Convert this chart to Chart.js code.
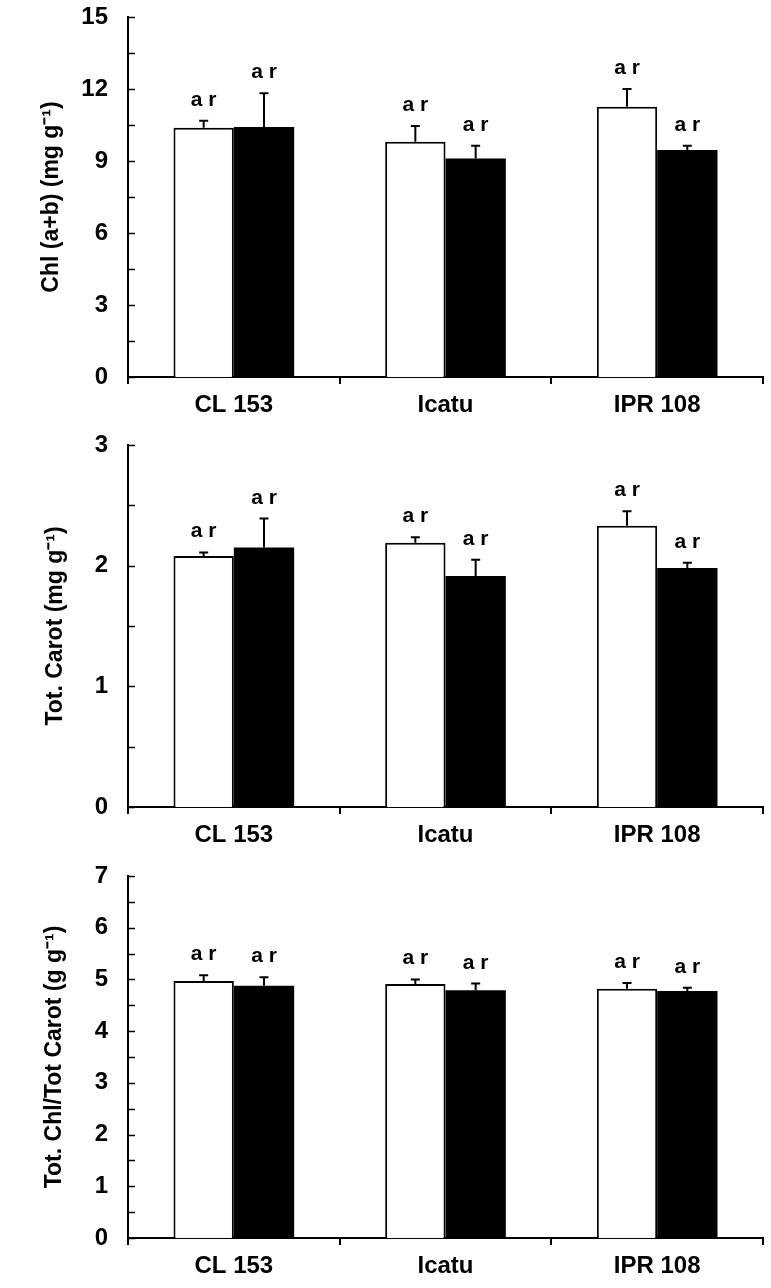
<!DOCTYPE html>
<html>
<head>
<meta charset="utf-8">
<script src="https://cdn.jsdelivr.net/npm/chart.js@4.4.1/dist/chart.umd.min.js"></script>
<style>
  html, body { margin: 0; padding: 0; background: #fff; overflow: hidden; }
  #page { position: relative; width: 771px; height: 1288px; }
  .panel { position: absolute; left: 0; width: 771px; }
</style>
</head>
<body>
<div id="page">
  <div class="panel" style="top:0;height:429px"><canvas id="chl-chart"></canvas></div>
  <div class="panel" style="top:428px;height:431px"><canvas id="carot-chart"></canvas></div>
  <div class="panel" style="top:859px;height:431px"><canvas id="ratio-chart"></canvas></div>
</div>
<script>
const cultivars = ["CL 153", "Icatu", "IPR 108"];

// Chl (a+b), mg g-1
const chlOpen = [10.39, 9.80, 11.26];
const chlOpenErr = [0.29, 0.66, 0.74];
const chlFilled = [10.42, 9.10, 9.46];
const chlFilledErr = [1.40, 0.54, 0.18];

// total carotenoids, mg g-1
const carotOpen = [2.08, 2.19, 2.33];
const carotOpenErr = [0.03, 0.045, 0.12];
const carotFilled = [2.15, 1.915, 1.98];
const carotFilledErr = [0.24, 0.135, 0.045];

// Chl / carotenoids ratio, g g-1
const ratioOpen = [4.97, 4.91, 4.82];
const ratioOpenErr = [0.11, 0.09, 0.11];
const ratioFilled = [4.88, 4.79, 4.775];
const ratioFilledErr = [0.16, 0.13, 0.065];

// significance letters
const openLetters = ["a r", "a r", "a r"];
const filledLetters = ["a r", "a r", "a r"];

const FONT = "'Liberation Sans', Arial, sans-serif";
Chart.defaults.font.family = FONT;
Chart.defaults.color = "#000";

const errorBarPlugin = {
  id: "errorBars",
  afterDatasetsDraw(chart) {
    const ctx = chart.ctx;
    const yScale = chart.scales.y;
    chart.data.datasets.forEach((ds, di) => {
      const meta = chart.getDatasetMeta(di);
      meta.data.forEach((bar, i) => {
        const top = yScale.getPixelForValue(ds.data[i] + ds.errors[i]);
        ctx.save();
        ctx.strokeStyle = "#000";
        ctx.lineWidth = 2;
        ctx.beginPath();
        ctx.moveTo(bar.x, bar.y);
        ctx.lineTo(bar.x, top);
        ctx.moveTo(bar.x - 4.5, top);
        ctx.lineTo(bar.x + 4.5, top);
        ctx.stroke();
        ctx.fillStyle = "#000";
        ctx.font = "bold 21px " + FONT;
        ctx.textAlign = "center";
        ctx.textBaseline = "alphabetic";
        ctx.fillText(ds.letters[i], bar.x, top - 15);
        ctx.restore();
      });
    });
  }
};

// small tick marks pointing into the plot on the y axis
const innerTicksPlugin = {
  id: "innerTicks",
  afterDraw(chart, args, opts) {
    const y = chart.scales.y;
    const ctx = chart.ctx;
    const x0 = chart.chartArea.left;
    ctx.save();
    ctx.strokeStyle = "#000";
    ctx.lineWidth = 1.5;
    ctx.beginPath();
    for (let v = y.min; v <= y.max + 1e-9; v += opts.step) {
      const py = Math.round(y.getPixelForValue(v)) + 0.5;
      ctx.moveTo(x0, py);
      ctx.lineTo(x0 + 7, py);
    }
    ctx.stroke();
    ctx.restore();
  }
};

function makePanel(canvasId, p) {
  const ctx = document.getElementById(canvasId);
  return new Chart(ctx, {
    type: "bar",
    data: {
      labels: cultivars,
      datasets: [
        {
          data: p.open,
          errors: p.openErr,
          letters: openLetters,
          backgroundColor: "#fff",
          borderColor: "#000",
          borderWidth: 2,
        },
        {
          data: p.filled,
          errors: p.filledErr,
          letters: filledLetters,
          backgroundColor: "#000",
          borderColor: "#000",
          borderWidth: 0,
        },
      ],
    },
    plugins: [errorBarPlugin, innerTicksPlugin],
    options: {
      responsive: true,
      maintainAspectRatio: false,
      animation: false,
      layout: { padding: { top: 17, right: 8, left: 0, bottom: 0 } },
      categoryPercentage: 0.57,
      barPercentage: 1.0,
      plugins: {
        legend: { display: false },
        tooltip: { enabled: false },
        innerTicks: { step: p.minor },
      },
      scales: {
        x: {
          offset: true,
          grid: {
            display: true,
            offset: true,
            drawOnChartArea: false,
            drawTicks: true,
            tickLength: 7,
            color: "#000",
            lineWidth: 2,
          },
          border: { display: true, color: "#000", width: 2 },
          ticks: { font: { size: 24, weight: "bold" }, color: "#000", padding: 7 },
          afterFit: (scale) => { scale.height = 52; },
        },
        y: {
          min: 0,
          max: p.max,
          grid: { display: false, drawTicks: false },
          border: { display: true, color: "#000", width: 2 },
          ticks: {
            stepSize: p.step,
            font: { size: 24, weight: "bold" },
            color: "#000",
            padding: 20,
          },
          title: {
            display: true,
            text: p.title,
            font: { size: 23, weight: "bold" },
            color: "#000",
            padding: { top: p.titleX - 13.8, bottom: 0 },
          },
          afterFit: (scale) => {
            scale.width = 128;
            // tick padding is only wanted sideways, not above/below the axis
            scale.paddingTop = 0;
            scale.paddingBottom = 0;
          },
        },
      },
    },
  });
}

makePanel("chl-chart", {
  open: chlOpen, openErr: chlOpenErr, filled: chlFilled, filledErr: chlFilledErr,
  max: 15, step: 3, minor: 1.5, title: "Chl (a+b) (mg g\u207B\u00B9)", titleX: 52,
});
makePanel("carot-chart", {
  open: carotOpen, openErr: carotOpenErr, filled: carotFilled, filledErr: carotFilledErr,
  max: 3, step: 1, minor: 0.5, title: "Tot. Carot (mg g\u207B\u00B9)", titleX: 56,
});
makePanel("ratio-chart", {
  open: ratioOpen, openErr: ratioOpenErr, filled: ratioFilled, filledErr: ratioFilledErr,
  max: 7, step: 1, minor: 0.5, title: "Tot. Chl/Tot Carot (g g\u207B\u00B9)", titleX: 55,
});
</script>
</body>
</html>
